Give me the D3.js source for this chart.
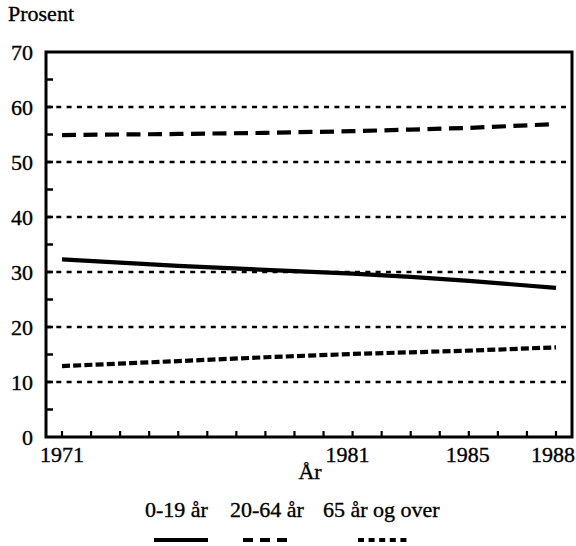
<!DOCTYPE html>
<html><head><meta charset="utf-8">
<script src="https://cdn.jsdelivr.net/npm/d3@7"></script>
<style>body{margin:0;background:#fff}svg{display:block}text{font-family:"Liberation Serif","Times New Roman",serif;fill:#000;stroke:#000;stroke-width:0.35px}</style>
</head><body>
<svg id="c" width="576" height="546"></svg>
<script>
const years = [1971, 1975, 1978, 1981, 1983, 1985, 1988];
const age0_19 = [32.3, 31.1, 30.4, 29.7, 29.1, 28.4, 27.1];
const age20_64 = [54.9, 55.1, 55.3, 55.6, 55.9, 56.2, 56.9];
const age65plus = [12.9, 13.8, 14.5, 15.1, 15.4, 15.7, 16.3];
const seriesNames = ["0-19 år", "20-64 år", "65 år og over"];
const xTickLabels = [1971, 1981, 1985, 1988];
const yTicks = [0, 10, 20, 30, 40, 50, 60, 70];
const gridValues = [10, 20, 30, 40, 50, 60];

const svg = d3.select("#c");
const x = d3.scaleLinear().domain([1971, 1988]).range([62, 556]);
const y = d3.scaleLinear().domain([0, 70]).range([437, 52]);
const left = 46, right = 572;
const FS = 22;

// gridlines
svg.append("g").selectAll("line").data(gridValues).join("line")
  .attr("x1", left).attr("x2", 566)
  .attr("y1", d => y(d)).attr("y2", d => y(d))
  .attr("stroke", "#000").attr("stroke-width", 2.6).attr("stroke-dasharray", "5,5.3");

// minor y ticks
svg.append("g").selectAll("line").data(d3.range(5, 70, 10)).join("line")
  .attr("x1", left).attr("x2", left + 7)
  .attr("y1", d => y(d)).attr("y2", d => y(d))
  .attr("stroke", "#000").attr("stroke-width", 2.5);
// grid stubs at major ticks
svg.append("g").selectAll("line").data(gridValues).join("line")
  .attr("x1", left).attr("x2", left + 7)
  .attr("y1", d => y(d)).attr("y2", d => y(d))
  .attr("stroke", "#000").attr("stroke-width", 2.6);

// x ticks every year
svg.append("g").selectAll("line").data(d3.range(1971, 1989)).join("line")
  .attr("x1", d => x(d)).attr("x2", d => x(d))
  .attr("y1", y(0)).attr("y2", y(0) - 6)
  .attr("stroke", "#000").attr("stroke-width", 2.2);

// frame
svg.append("rect").attr("x", left).attr("y", y(70)).attr("width", right - left).attr("height", y(0) - y(70))
  .attr("fill", "none").attr("stroke", "#000").attr("stroke-width", 3);

// y labels
svg.append("g").selectAll("text").data(yTicks).join("text")
  .attr("x", 33).attr("y", d => y(d)).attr("dy", "0.35em").attr("text-anchor", "end")
  .attr("font-size", FS).text(d => d);

// x labels
const xLabelShift = {1971: 0, 1981: -5, 1985: -1, 1988: -3};
svg.append("g").selectAll("text").data(xTickLabels).join("text")
  .attr("x", d => x(d) + xLabelShift[d]).attr("y", 462).attr("text-anchor", "middle")
  .attr("font-size", FS).text(d => d);

svg.append("text").attr("x", 310).attr("y", 479).attr("text-anchor", "middle").attr("font-size", FS).text("År");
svg.append("text").attr("x", 8).attr("y", 21).attr("font-size", FS).text("Prosent");

const line = d3.line().x(d => x(d[0])).y(d => y(d[1]));
const series = [
  {vals: age0_19, dash: null, w: 4.2},
  {vals: age20_64, dash: "14,7.5", w: 4.2},
  {vals: age65plus, dash: "8,3.2", w: 4.2}
];
series.forEach(s => {
  svg.append("path").datum(years.map((yr, i) => [yr, s.vals[i]]))
    .attr("d", line).attr("fill", "none").attr("stroke", "#000")
    .attr("stroke-width", s.w).attr("stroke-dasharray", s.dash);
});

// legend
const legendText = [145, 230, 323];
const legendLine = [[154, 208, null], [243, 287, "10,7"], [358, 407, "6,4.6"]];
seriesNames.forEach((n, i) => {
  svg.append("text").attr("x", legendText[i]).attr("y", 517).attr("font-size", FS).text(n);
  svg.append("line").attr("x1", legendLine[i][0]).attr("x2", legendLine[i][1])
    .attr("y1", 540).attr("y2", 540).attr("stroke", "#000").attr("stroke-width", 4)
    .attr("stroke-dasharray", legendLine[i][2]);
});
</script>
</body></html>
